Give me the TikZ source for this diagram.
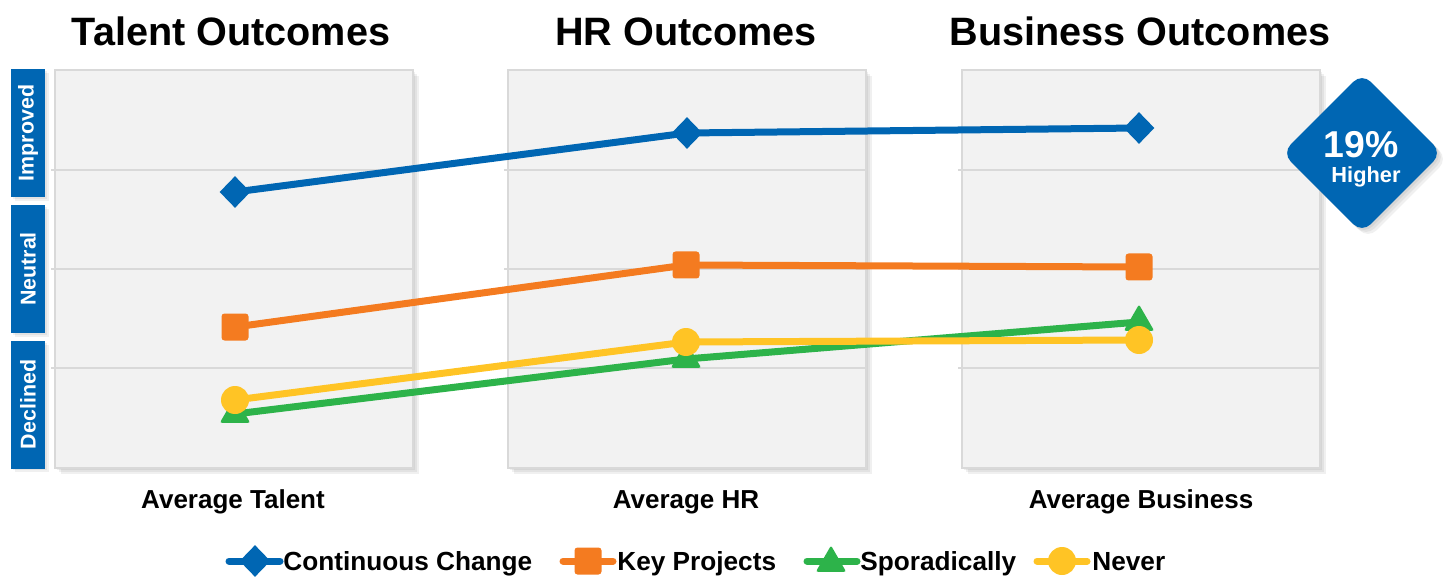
\documentclass[tikz,border=0pt]{standalone}
\usepackage{fontspec}
\setmainfont{Liberation Sans}
\usetikzlibrary{shapes.geometric}
\definecolor{cblue}{HTML}{0066B3}
\definecolor{corange}{HTML}{F47B20}
\definecolor{cgreen}{HTML}{2DB34A}
\definecolor{cyellow}{HTML}{FFC425}
\definecolor{panelgray}{HTML}{F2F2F2}
\definecolor{gridgray}{HTML}{D9D9D9}

\begin{document}
\begin{tikzpicture}[
        x=0.5pt, y=-0.5pt,
        panel/.style={fill=panelgray,draw=gridgray,line width=0.8pt},
        shade/.style={fill=black,opacity=0.06},
        tag/.style={fill=cblue,text=white,rotate=90,inner sep=0pt,
            minimum width=64pt,minimum height=17pt,font=\bfseries\fontsize{10.7}{12}\selectfont},
        series/.style={line width=3.5pt,draw=#1},
        dia/.style={diamond,fill=cblue,inner sep=0pt,minimum width=15.5pt,minimum height=16pt},
        sq/.style={rectangle,fill=corange,rounded corners=1.5pt,inner sep=0pt,minimum size=13.5pt},
        tri/.style={regular polygon,regular polygon sides=3,fill=cgreen,rounded corners=1pt,
            inner sep=0pt,minimum size=17.5pt},
        dot/.style={circle,fill=cyellow,inner sep=0pt,minimum size=14pt},
        badge/.style={diamond,fill=cblue,rounded corners=6pt,inner sep=0pt,minimum size=80pt},
        title/.style={anchor=base,inner sep=0pt,font=\bfseries\fontsize{19.8}{22}\selectfont},
        axis/.style={anchor=base,inner sep=0pt,font=\bfseries\fontsize{13}{15}\selectfont},
        legend/.style={anchor=base west,inner sep=0pt,font=\bfseries\fontsize{13.1}{15}\selectfont}
    ]
    \useasboundingbox (0,0) rectangle (1445,577);

    % panels
    \foreach \px in {55,508,962} {
        \foreach \s in {2,4,6}
            \fill[shade] (\px+\s,70+\s) rectangle (\px+358+\s,468+\s);
        \draw[panel] (\px,70) rectangle (\px+358,468);
        \foreach \gy in {170,269,368}
            \draw[gridgray,line width=0.8pt] (\px-4,\gy) -- (\px+358,\gy);
    }

    \node[title] (ttl1) at (231,46) {Talent Outcomes};
    \node[title] (ttl2) at (686,46) {HR Outcomes};
    \node[title] (ttl3) at (1140,46) {Business Outcomes};

    \node[axis] (ax1) at (233,508) {Average Talent};
    \node[axis] (ax2) at (686,508) {Average HR};
    \node[axis] (ax3) at (1141,508) {Average Business};

    % side tags
    \foreach \ya/\yb in {69/197,205/333,341/468}
        \foreach \s in {2,4}
            \fill[shade] (11+\s,\ya+\s) rectangle (45+\s,\yb+\s);
    \node[tag] (imp) at (28,133) {Improved};
    \node[tag] (neu) at (28,269) {Neutral};
    \node[tag] (dec) at (28,404.5) {Declined};

    % series
    \coordinate (tc) at (235,192);
    \coordinate (hc) at (687,133);
    \coordinate (bc) at (1139,128);
    \draw[series=cblue] (tc) -- (hc) -- (bc);
    \foreach \p in {tc,hc,bc} \node[dia] (\p m) at (\p) {};

    \coordinate (tk) at (235,327);
    \coordinate (hk) at (686,265);
    \coordinate (bk) at (1139,267);
    \draw[series=corange] (tk) -- (hk) -- (bk);
    \foreach \p in {tk,hk,bk} \node[sq] (\p m) at (\p) {};

    \coordinate (ts) at (235,414);
    \coordinate (hs) at (686,359);
    \coordinate (bs) at (1139,322);
    \draw[series=cgreen] (ts) -- (hs) -- (bs);
    \foreach \p in {ts,hs,bs} \node[tri] (\p m) at (\p) {};

    \coordinate (tn) at (235,400);
    \coordinate (hn) at (686,342);
    \coordinate (bn) at (1139,340);
    \draw[series=cyellow] (tn) -- (hn) -- (bn);
    \foreach \p in {tn,hn,bn} \node[dot] (\p m) at (\p) {};

    % badge
    \foreach \s in {2,4,6}
        \node[badge,fill=black,opacity=0.06] (bsh\s) at (1362+\s,153+\s) {};
    \node[badge] (bdg) at (1362,153) {};
    \node[anchor=base,text=white,font=\bfseries\fontsize{18.7}{20}\selectfont] (pct) at (1361,158) {19\%};
    \node[anchor=base,text=white,font=\bfseries\fontsize{10.9}{12}\selectfont] (hi) at (1366,183) {Higher};

    % legend
    \coordinate (lca) at (229,561); \coordinate (lcb) at (280,561);
    \draw[series=cblue,line cap=round] (lca) -- (lcb);
    \node[dia] (lc) at (255,561) {};
    \node[legend] (lct) at (283,570) {Continuous Change};

    \coordinate (lka) at (563,561); \coordinate (lkb) at (613,561);
    \draw[series=corange,line cap=round] (lka) -- (lkb);
    \node[sq] (lk) at (588,561) {};
    \node[legend] (lkt) at (617,570) {Key Projects};

    \coordinate (lsa) at (807,561); \coordinate (lsb) at (857,561);
    \draw[series=cgreen,line cap=round] (lsa) -- (lsb);
    \node[tri] (ls) at (831,563) {};
    \node[legend] (lst) at (860,570) {Sporadically};

    \coordinate (lna) at (1037,561); \coordinate (lnb) at (1087,561);
    \draw[series=cyellow,line cap=round] (lna) -- (lnb);
    \node[dot] (ln) at (1062,561) {};
    \node[legend] (lnt) at (1092,570) {Never};
\end{tikzpicture}
\end{document}
